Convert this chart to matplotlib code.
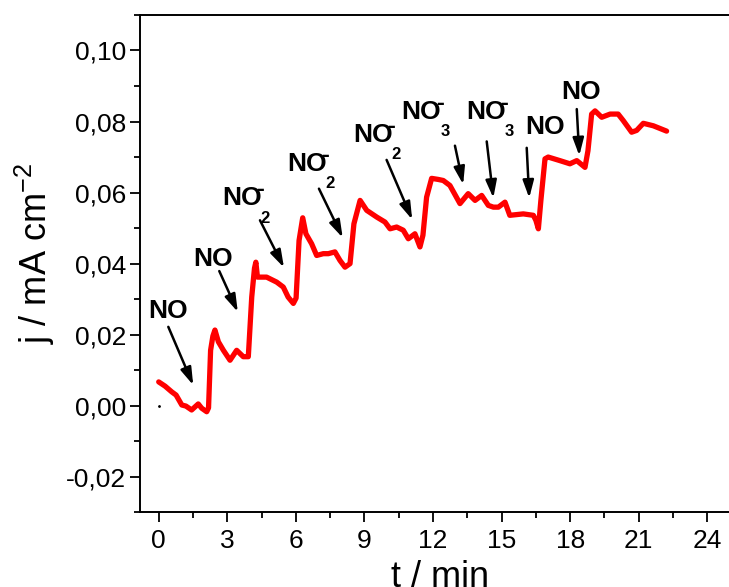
import matplotlib
matplotlib.use("Agg")
import matplotlib.pyplot as plt
from matplotlib import font_manager
from matplotlib.ticker import MultipleLocator, FuncFormatter

plt.rcParams['font.family'] = ['Liberation Sans', 'DejaVu Sans']
plt.rcParams['mathtext.fontset'] = 'custom'
plt.rcParams['mathtext.rm'] = 'Liberation Sans'

installed = {f.name for f in font_manager.fontManager.ttflist}
if 'Liberation Sans Narrow' in installed:
    label_family = ['Liberation Sans Narrow', 'Liberation Sans', 'DejaVu Sans']
    label_size = 30
else:
    label_family = ['Liberation Sans', 'DejaVu Sans']
    label_size = 26

# ---- data (t in min, j in mA cm^-2) ----
t = [0.00, 0.28, 0.57, 0.76, 1.01, 1.19, 1.44, 1.73, 1.88, 2.10, 2.18, 2.27, 2.37, 2.46,
     2.61, 2.83, 3.12, 3.41, 3.70, 3.92, 4.07, 4.19, 4.25, 4.32, 4.72, 5.16, 5.45, 5.66,
     5.89, 6.01, 6.14, 6.30, 6.44, 6.69, 6.91, 7.20, 7.42, 7.71, 7.93, 8.15, 8.37, 8.54,
     8.81, 9.10, 9.54, 9.90, 10.12, 10.41, 10.70, 10.92, 11.21, 11.43, 11.56, 11.72, 11.94,
     12.23, 12.45, 12.74, 13.18, 13.54, 13.84, 14.13, 14.42, 14.64, 14.86, 15.15, 15.36,
     15.95, 16.39, 16.50, 16.61, 16.72, 16.90, 17.04, 17.55, 17.99, 18.29, 18.65, 18.78,
     18.94, 19.09, 19.38, 19.75, 20.10, 20.32, 20.69, 20.91, 21.20, 21.64, 22.22]
j = [0.0067, 0.0055, 0.0039, 0.0030, 0.0002, -0.0001, -0.0012, 0.0005, -0.0007, -0.0017,
     -0.0006, 0.0156, 0.0196, 0.0213, 0.0180, 0.0156, 0.0128, 0.0156, 0.0138, 0.0138,
     0.0306, 0.0387, 0.0404, 0.0362, 0.0362, 0.0348, 0.0334, 0.0306, 0.0288, 0.0303,
     0.0465, 0.0529, 0.0484, 0.0456, 0.0423, 0.0428, 0.0428, 0.0433, 0.0409, 0.0390,
     0.0400, 0.0512, 0.0578, 0.0550, 0.0531, 0.0517, 0.0498, 0.0503, 0.0494, 0.0470,
     0.0484, 0.0447, 0.0480, 0.0587, 0.0640, 0.0637, 0.0634, 0.0620, 0.0569, 0.0597,
     0.0578, 0.0592, 0.0564, 0.0559, 0.0559, 0.0573, 0.0536, 0.0540, 0.0536, 0.0522,
     0.0498, 0.0578, 0.0695, 0.0700, 0.0690, 0.0681, 0.0690, 0.0671, 0.0718, 0.0821,
     0.0830, 0.0812, 0.0821, 0.0821, 0.0803, 0.0770, 0.0775, 0.0795, 0.0788, 0.0773]

# annotations: species name, subscript (charge '-' shown when subscript present)
species = ['NO', 'NO', 'NO', 'NO', 'NO', 'NO', 'NO', 'NO', 'NO']
subscripts = ['', '', '2', '2', '2', '3', '3', '', '']
label_t = [-0.47, 1.50, 2.76, 5.61, 8.49, 10.63, 13.44, 16.02, 17.60]
label_j = [0.0246, 0.0392, 0.0564, 0.0662, 0.0742, 0.0807, 0.0807, 0.0765, 0.0863]
arrow_t0 = [0.42, 2.65, 4.43, 7.01, 9.97, 12.96, 14.35, 16.10, 18.29]
arrow_j0 = [0.0222, 0.0379, 0.0522, 0.0611, 0.0692, 0.0732, 0.0744, 0.0726, 0.0835]
arrow_t1 = [1.51, 3.46, 5.48, 8.05, 11.09, 13.32, 14.64, 16.21, 18.40]
arrow_j1 = [0.0058, 0.0264, 0.0389, 0.0473, 0.0524, 0.0623, 0.0585, 0.0585, 0.0704]

xticks = [0, 3, 6, 9, 12, 15, 18, 21, 24]
yticks = [-0.02, 0.00, 0.02, 0.04, 0.06, 0.08, 0.10]

fig = plt.figure(figsize=(7.29, 5.87), dpi=100)
ax = fig.add_axes([0.1920, 0.1273, 0.8080, 0.8472])

ax.plot(t, j, color='#ff0000', lw=3.8, solid_joinstyle='round', solid_capstyle='round')
ax.plot([0], [0], 'k.', ms=2)

for sp, sub, lt, lj, t0, j0, t1, j1 in zip(species, subscripts, label_t, label_j,
                                           arrow_t0, arrow_j0, arrow_t1, arrow_j1):
    ax.text(lt, lj, sp, fontsize=19, fontweight='bold', ha='left', va='baseline')
    if sub:
        ax.annotate('-', xy=(lt, lj), xycoords='data', xytext=(24.5, 6.5),
                    textcoords='offset points', fontsize=17, fontweight='bold',
                    ha='left', va='baseline')
        ax.annotate(sub, xy=(lt, lj), xycoords='data', xytext=(28.0, -12.5),
                    textcoords='offset points', fontsize=12, fontweight='bold',
                    ha='left', va='baseline')
    ax.annotate('', xy=(t1, j1), xytext=(t0, j0),
                arrowprops=dict(arrowstyle='-|>,head_length=0.7,head_width=0.22',
                                color='k', lw=1.8, mutation_scale=15,
                                shrinkA=0, shrinkB=0))

ax.set_xlim(-0.82, 24.95)
ax.set_ylim(-0.03, 0.11)
ax.set_xticks(xticks)
ax.set_yticks(yticks)
ax.xaxis.set_minor_locator(MultipleLocator(1.5))
ax.yaxis.set_minor_locator(MultipleLocator(0.01))
ax.yaxis.set_major_formatter(FuncFormatter(lambda v, p: f"{v:.2f}".replace('.', ',').replace('-0,00', '0,00')))

ax.tick_params(which='major', direction='out', length=7, width=1.3, labelsize=19)
ax.tick_params(which='minor', direction='out', length=4, width=1.3)
ax.tick_params(axis='x', pad=5)
ax.tick_params(axis='y', pad=3)

for s in ['left', 'bottom', 'top']:
    ax.spines[s].set_linewidth(1.4)
ax.spines['right'].set_visible(False)

ax.set_xlabel('t / min', fontsize=label_size, family=label_family)
ax.set_ylabel(r'j / mA cm$^{\mathregular{-2}}$', fontsize=label_size, family=label_family)
ax.xaxis.set_label_coords(0.510, -0.095)
ax.yaxis.set_label_coords(-0.141, 0.52)

fig.savefig('out.png', dpi=100)
